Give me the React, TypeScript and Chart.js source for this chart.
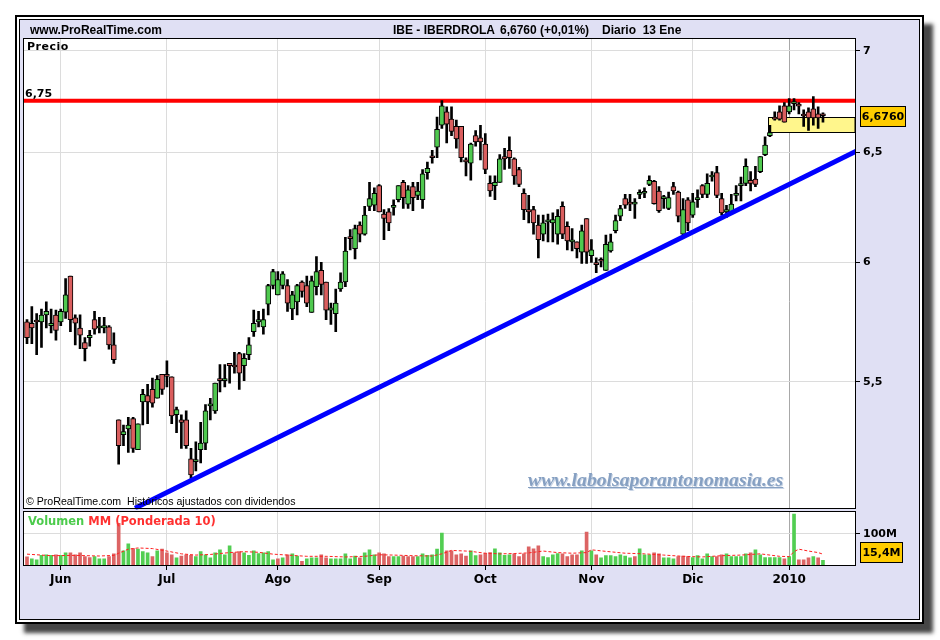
import React, { useEffect, useRef } from "react";
import { Chart, registerables } from "chart.js";

Chart.register(...registerables);

// ---------- categories (trading days) ----------
const monthNames = ["May", "Jun", "Jul", "Ago", "Sep", "Oct", "Nov", "Dic", "Ene"];
const tradingDaysPerMonth = [7, 22, 23, 21, 22, 22, 21, 20, 8];
const monthTickLabels = ["", "Jun", "Jul", "Ago", "Sep", "Oct", "Nov", "Dic", "2010"];

// ---------- axis ticks ----------
const priceTicks = [5.5, 6, 6.5, 7];
const volumeTicks = [100];

// ---------- OHLC (EUR) ----------
const openP = [
  5.746, 5.74, 5.753, 5.746, 5.775, 5.73, 5.774, 5.745, 5.786, 5.94,
  5.763, 5.72, 5.66, 5.68, 5.755, 5.72, 5.72, 5.725, 5.65, 5.35,
  5.293, 5.315, 5.355, 5.235, 5.42, 5.445, 5.47, 5.435, 5.53, 5.525,
  5.52, 5.37, 5.35, 5.35, 5.2, 5.19, 5.235, 5.26, 5.405, 5.385,
  5.505, 5.505, 5.575, 5.56, 5.615, 5.565, 5.61, 5.705, 5.745, 5.725,
  5.82, 5.9, 5.86, 5.9, 5.9, 5.8, 5.83, 5.915, 5.9, 5.785,
  5.895, 5.965, 5.915, 5.795, 5.78, 5.885, 5.915, 6.11, 6.06, 6.165,
  6.125, 6.25, 6.255, 6.345, 6.215, 6.225, 6.245, 6.28, 6.36, 6.26,
  6.34, 6.3, 6.28, 6.405, 6.48, 6.525, 6.63, 6.695, 6.66, 6.625,
  6.625, 6.465, 6.45, 6.58, 6.57, 6.54, 6.355, 6.345, 6.36, 6.48,
  6.51, 6.47, 6.42, 6.31, 6.235, 6.235, 6.165, 6.125, 6.18, 6.175,
  6.125, 6.25, 6.16, 6.09, 6.09, 6.045, 6.195, 6.03, 5.995, 6.01,
  5.965, 6.05, 6.14, 6.205, 6.285, 6.262, 6.26, 6.305, 6.31, 6.35,
  6.365, 6.32, 6.285, 6.24, 6.34, 6.315, 6.125, 6.28, 6.21, 6.28,
  6.345, 6.305, 6.385, 6.405, 6.285, 6.225, 6.225, 6.3, 6.345, 6.355,
  6.37, 6.375, 6.41, 6.49, 6.58, 6.67, 6.695, 6.725, 6.695, 6.735,
  6.725, 6.68, 6.695, 6.71, 6.685, 6.676,
];
const highP = [
  5.755, 5.81, 5.78, 5.8, 5.83, 5.8, 5.795, 5.8, 5.93, 5.94,
  5.775, 5.775, 5.68, 5.71, 5.79, 5.765, 5.765, 5.73, 5.7, 5.35,
  5.33, 5.36, 5.36, 5.335, 5.47, 5.49, 5.515, 5.525, 5.53, 5.585,
  5.52, 5.4, 5.37, 5.385, 5.24, 5.265, 5.34, 5.41, 5.435, 5.495,
  5.57, 5.57, 5.575, 5.62, 5.62, 5.615, 5.68, 5.795, 5.79, 5.8,
  5.905, 5.97, 5.96, 5.96, 5.925, 5.875, 5.905, 5.92, 5.94, 5.94,
  6.025, 6.0, 5.915, 5.825, 5.885, 5.955, 6.11, 6.145, 6.165, 6.18,
  6.25, 6.36, 6.335, 6.35, 6.235, 6.24, 6.28, 6.345, 6.37, 6.345,
  6.36, 6.36, 6.42, 6.455, 6.51, 6.67, 6.75, 6.72, 6.72, 6.655,
  6.625, 6.475, 6.545, 6.605, 6.63, 6.59, 6.39, 6.39, 6.49, 6.52,
  6.575, 6.475, 6.43, 6.33, 6.3, 6.25, 6.21, 6.21, 6.215, 6.22,
  6.235, 6.27, 6.18, 6.15, 6.09, 6.165, 6.195, 6.1, 6.02, 6.02,
  6.12, 6.125, 6.21, 6.255, 6.305, 6.305, 6.285, 6.325, 6.335, 6.39,
  6.37, 6.34, 6.3, 6.315, 6.36, 6.32, 6.285, 6.29, 6.31, 6.325,
  6.35, 6.4, 6.41, 6.435, 6.31, 6.255, 6.305, 6.345, 6.385, 6.47,
  6.41, 6.435, 6.48, 6.575, 6.63, 6.695, 6.725, 6.74, 6.76, 6.76,
  6.74, 6.705, 6.715, 6.77, 6.72, 6.69,
];
const lowP = [
  5.655, 5.655, 5.61, 5.64, 5.72, 5.7, 5.67, 5.73, 5.76, 5.705,
  5.65, 5.635, 5.585, 5.645, 5.695, 5.7, 5.7, 5.633, 5.575, 5.18,
  5.25, 5.225, 5.225, 5.235, 5.33, 5.335, 5.4, 5.435, 5.45, 5.48,
  5.335, 5.3, 5.24, 5.24, 5.12, 5.155, 5.185, 5.235, 5.35, 5.375,
  5.46, 5.48, 5.495, 5.535, 5.47, 5.505, 5.59, 5.685, 5.725, 5.695,
  5.775, 5.885, 5.86, 5.885, 5.79, 5.755, 5.775, 5.85, 5.81, 5.785,
  5.86, 5.86, 5.755, 5.735, 5.705, 5.875, 5.895, 6.055, 6.015, 6.09,
  6.12, 6.23, 6.23, 6.225, 6.1, 6.14, 6.21, 6.27, 6.24, 6.24,
  6.23, 6.28, 6.24, 6.375, 6.45, 6.475, 6.615, 6.545, 6.58, 6.52,
  6.455, 6.39, 6.37, 6.53, 6.465, 6.4, 6.295, 6.28, 6.36, 6.42,
  6.425, 6.35, 6.34, 6.19, 6.175, 6.125, 6.02, 6.095, 6.09, 6.09,
  6.08, 6.105, 6.055, 6.05, 6.02, 5.995, 5.995, 6.0, 5.955, 5.98,
  5.965, 6.045, 6.13, 6.185, 6.24, 6.23, 6.195, 6.285, 6.29, 6.345,
  6.26, 6.222, 6.24, 6.235, 6.305, 6.18, 6.12, 6.14, 6.2, 6.245,
  6.29, 6.29, 6.365, 6.29, 6.21, 6.2, 6.215, 6.275, 6.275, 6.345,
  6.32, 6.34, 6.405, 6.485, 6.575, 6.655, 6.655, 6.645, 6.685, 6.705,
  6.685, 6.625, 6.605, 6.63, 6.615, 6.645,
];
const closeP = [
  5.68, 5.72, 5.745, 5.774, 5.79, 5.74, 5.71, 5.79, 5.86, 5.755,
  5.74, 5.69, 5.635, 5.69, 5.715, 5.722, 5.73, 5.65, 5.59, 5.25,
  5.305, 5.33, 5.24, 5.335, 5.45, 5.42, 5.415, 5.51, 5.47, 5.522,
  5.365, 5.39, 5.34, 5.25, 5.14, 5.195, 5.26, 5.385, 5.41, 5.495,
  5.505, 5.51, 5.565, 5.56, 5.535, 5.595, 5.65, 5.74, 5.755, 5.755,
  5.9, 5.96, 5.925, 5.95, 5.825, 5.86, 5.9, 5.875, 5.825, 5.92,
  5.96, 5.905, 5.795, 5.805, 5.825, 5.915, 6.05, 6.105, 6.15, 6.125,
  6.21, 6.285, 6.31, 6.225, 6.195, 6.175, 6.248, 6.345, 6.29, 6.325,
  6.29, 6.32, 6.4, 6.425, 6.475, 6.61, 6.725, 6.635, 6.6, 6.565,
  6.475, 6.455, 6.54, 6.55, 6.55, 6.42, 6.32, 6.36, 6.47, 6.47,
  6.475, 6.39, 6.35, 6.235, 6.225, 6.175, 6.1, 6.175, 6.182, 6.19,
  6.205, 6.125, 6.095, 6.092, 6.06, 6.14, 6.045, 6.055, 5.99, 6.005,
  6.08, 6.09, 6.185, 6.24, 6.255, 6.26, 6.262, 6.31, 6.312, 6.37,
  6.262, 6.23, 6.287, 6.29, 6.32, 6.205, 6.235, 6.175, 6.27, 6.29,
  6.305, 6.355, 6.387, 6.3, 6.22, 6.235, 6.26, 6.31, 6.347, 6.435,
  6.355, 6.35, 6.48, 6.535, 6.595, 6.66, 6.66, 6.645, 6.725, 6.737,
  6.723, 6.675, 6.665, 6.665, 6.665, 6.676,
];

// ---------- volume (millions) ----------
const volumeM = [
  26.6, 20, 17, 31, 33, 31, 33, 31, 39, 39,
  33, 39, 27, 24, 27, 20, 20, 27, 36, 134,
  46, 68, 53, 51, 43, 39, 27, 46, 51, 39,
  33, 23, 29, 33, 31, 27, 43, 33, 23, 39,
  49, 33, 62, 39, 43, 39, 31, 46, 37, 39,
  43, 17, 20, 23, 33, 36, 29, 12, 20, 23,
  23, 33, 23, 20, 20, 20, 36, 20, 29, 23,
  39, 49, 33, 39, 36, 27, 27, 27, 29, 27,
  27, 27, 36, 31, 33, 51, 103, 46, 46, 33,
  36, 29, 46, 30, 33, 38, 40, 52, 39, 31,
  33, 36, 27, 36, 59, 52, 62, 27, 24, 33,
  37, 36, 27, 33, 33, 46, 106, 46, 33, 23,
  30, 30, 27, 33, 29, 23, 27, 52, 33, 33,
  39, 36, 23, 23, 20, 27, 29, 27, 24, 30,
  20, 36, 27, 27, 33, 36, 27, 27, 27, 36,
  39, 49, 33, 24, 24, 24, 24, 20, 27, 164,
  17, 17, 23, 27, 23, 15.4,
];
const volumeColorCodes =
  "rgggggrggr" + "rrrrgggrrr" + "ggrgggrgrr" + "rgrrrggggg" + "gggrrggggg" +
  "ggrgrggrgg" + "grrggggggr" + "gggrrrggrr" + "rggggggrrr" + "rrggrrrggg" +
  "grrrrrrggg" + "grrrrgrgrg" + "ggggggrggg" + "rrgggrrrgg" + "gggrrggggg" +
  "rggggggrgg" + "rrrgrg";
// weighted moving average (10) read at sample days: [day index, millions]
const maPoints = [
  [0, 35], [5, 30], [10, 31], [15, 29], [18, 31], [19, 38], [21, 51], [23, 55],
  [26, 53], [29, 45], [32, 36], [35, 32], [38, 34], [42, 40], [45, 43], [48, 41],
  [51, 35], [55, 31], [58, 28], [62, 28], [66, 26], [70, 28], [73, 33], [76, 32],
  [80, 30], [84, 29], [86, 36], [88, 47], [91, 45], [92, 44], [95, 38], [98, 36],
  [101, 37], [104, 39], [107, 45], [110, 40], [113, 38], [116, 40], [117, 49],
  [120, 44], [124, 38], [128, 36], [132, 32], [136, 28], [140, 26], [144, 30],
  [148, 32], [152, 36], [156, 28], [158, 27], [159, 43], [160, 51], [162, 45],
  [164, 40], [165, 35],
];

// ---------- drawn studies ----------
const resistanceLevel = 6.75;
const trendLine = [[22.4, 5.017], [172.2, 6.51]];
const gapZone = { fromDay: 153.6, top: 6.67, bottom: 6.597 };
const lastPrice = 6.676;
const lastVolume = 15.4;
const xRange = [-0.83, 171.64];
const priceRange = [5.012, 7.065];
const volumeRange = [0, 179];

// ---------- derived ----------
const monthStarts: number[] = [];
const dayLabels: string[] = [];
{
  let acc = 0;
  tradingDaysPerMonth.forEach((n, m) => {
    monthStarts.push(acc);
    for (let d = 0; d < n; d++) dayLabels.push(monthNames[m] + " " + (d + 1));
    acc += n;
  });
}
const dayIdx = closeP.map((_, i) => i);
const GREEN = "#4FC94F";
const RED = "#DA5E5E";
const LAVENDER = "#E0E0F4";
const FONT = "'DejaVu Sans', sans-serif";

const panelPlugin = {
  id: "panels",
  beforeDraw(chart: any) {
    const { ctx, chartArea } = chart;
    const y = chart.scales.y;
    const yv = chart.scales.yv;
    const l = chartArea.left, r = chartArea.right;
    ctx.save();
    ctx.fillStyle = "#FFFFFF";
    ctx.fillRect(l, y.top, r - l, y.bottom - y.top);
    ctx.fillRect(l, yv.top, r - l, yv.bottom - yv.top);
    ctx.restore();
  },
  beforeDatasetsDraw(chart: any) {
    const { ctx, chartArea } = chart;
    const x = chart.scales.x;
    const y = chart.scales.y;
    const l = chartArea.left, r = chartArea.right;
    ctx.save();
    ctx.fillStyle = LAVENDER;
    ctx.fillRect(l - 1, Math.round(y.bottom - 1.5), r - l + 2, 3);
    const gx = Math.round(x.getPixelForValue(gapZone.fromDay)) + 0.5;
    const gt = Math.round(y.getPixelForValue(gapZone.top)) + 0.5;
    const gb = Math.round(y.getPixelForValue(gapZone.bottom)) + 0.5;
    ctx.fillStyle = "#FFF68C";
    ctx.fillRect(gx, gt, r - gx, gb - gt);
    ctx.strokeStyle = "#000";
    ctx.lineWidth = 1;
    ctx.strokeRect(gx, gt, r - gx, gb - gt);
    ctx.restore();
  },
  afterDatasetsDraw(chart: any) {
    const { ctx, chartArea } = chart;
    const y = chart.scales.y;
    const yv = chart.scales.yv;
    const l = Math.round(chartArea.left) + 0.5;
    const r = Math.round(chartArea.right) + 0.5;
    const pTop = Math.round(y.top) + 0.5;
    const pBot = Math.round(y.bottom - 1.5) + 0.5;
    const vTop = Math.round(yv.top + 1.5) + 0.5;
    const vBot = Math.round(yv.bottom) + 0.5;
    ctx.save();
    ctx.strokeStyle = "#000";
    ctx.lineWidth = 1;
    ctx.strokeRect(l, pTop, r - l, pBot - pTop);
    ctx.strokeRect(l, vTop, r - l, vBot - vTop);

    const box = (text: string, cy: number, w: number) => {
      const x0 = Math.round(chartArea.right) + 5.5;
      const h = 20;
      const t = Math.round(cy - h / 2) + 0.5;
      ctx.fillStyle = "#FFCC00";
      ctx.fillRect(x0, t, w, h);
      ctx.strokeStyle = "#000";
      ctx.strokeRect(x0, t, w, h);
      ctx.fillStyle = "#000";
      ctx.font = "bold 11px " + FONT;
      ctx.textAlign = "center";
      ctx.textBaseline = "middle";
      ctx.fillText(text, x0 + w / 2, t + h / 2 + 0.5);
    };
    box(lastPrice.toFixed(4).replace(".", ","), y.getPixelForValue(lastPrice), 45);
    const vy = Math.min(yv.getPixelForValue(lastVolume), yv.bottom - 13);
    box(String(lastVolume).replace(".", ",") + "M", vy, 42);
    ctx.restore();
  },
};

export default function App() {
  const canvasRef = useRef<HTMLCanvasElement>(null);

  useEffect(() => {
    const canvas = canvasRef.current;
    if (!canvas) return;
    const chart = new Chart(canvas, {
      type: "bar",
      data: {
        labels: dayLabels,
        datasets: [
          {
            type: "line",
            label: "Resistencia",
            data: [
              { x: xRange[0], y: resistanceLevel },
              { x: xRange[1], y: resistanceLevel },
            ],
            borderColor: "#FF0000",
            borderWidth: 4,
            pointRadius: 0,
            yAxisID: "y",
            order: 6,
          },
          {
            label: "Mecha",
            data: dayIdx.map((i) => ({ x: i, y: [lowP[i], highP[i]] })),
            backgroundColor: "#000",
            barThickness: 2,
            grouped: false,
            yAxisID: "y",
            order: 5,
          },
          {
            label: "Cuerpo",
            data: dayIdx.map((i) => ({ x: i, y: [openP[i], closeP[i]] })),
            backgroundColor: dayIdx.map((i) => (closeP[i] > openP[i] ? GREEN : RED)),
            borderColor: "#000",
            borderWidth: 1,
            borderSkipped: false,
            barThickness: 5,
            minBarLength: 2,
            grouped: false,
            yAxisID: "y",
            order: 4,
          },
          {
            type: "line",
            label: "Tendencia",
            data: trendLine.map(([x, y]) => ({ x, y })),
            borderColor: "#0000FF",
            borderWidth: 5,
            pointRadius: 0,
            yAxisID: "y",
            order: 1,
          },
          {
            label: "Volumen",
            data: dayIdx.map((i) => ({ x: i, y: volumeM[i] })),
            backgroundColor: dayIdx.map((i) =>
              volumeColorCodes[i] === "g" ? "#52CE52" : "#DC6464"
            ),
            barThickness: 3,
            grouped: false,
            yAxisID: "yv",
            order: 3,
          },
          {
            type: "line",
            label: "MM (Ponderada 10)",
            data: maPoints.map(([x, y]) => ({ x, y })),
            borderColor: "#FF2020",
            borderWidth: 1,
            borderDash: [3, 2],
            pointRadius: 0,
            yAxisID: "yv",
            order: 0,
          },
        ],
      } as any,
      options: {
        animation: false,
        responsive: false,
        devicePixelRatio: 1,
        layout: { padding: { left: 23, top: 38, right: 25, bottom: 45 } },
        plugins: {
          legend: { display: false },
          tooltip: { enabled: false },
        },
        scales: {
          x: {
            type: "linear",
            min: xRange[0],
            max: xRange[1],
            offset: false,
            border: { display: false },
            grid: {
              offset: false,
              color: (ctx: any) =>
                ctx.tick && ctx.tick.value === monthStarts[monthStarts.length - 1]
                  ? "#A8A8A8"
                  : "#DCDCDC",
              tickColor: "#000",
              tickLength: 5,
            },
            ticks: {
              autoSkip: false,
              maxRotation: 0,
              color: "#000",
              padding: 3,
              font: { family: FONT, weight: "bold", size: 12 },
              callback: (v: any) => {
                const k = monthStarts.indexOf(Number(v));
                return k >= 0 ? monthTickLabels[k] : "";
              },
            },
            afterBuildTicks: (s: any) => {
              s.ticks = monthStarts.slice(1).map((v) => ({ value: v }));
            },
            afterFit: (s: any) => {
              s.height = 30;
            },
          },
          y: {
            type: "logarithmic",
            position: "right",
            stack: "panels",
            stackWeight: 471.5,
            min: priceRange[0],
            max: priceRange[1],
            border: { display: false },
            grid: { color: "#DCDCDC", tickColor: "#000", tickLength: 5 },
            ticks: {
              color: "#000",
              padding: 3,
              font: { family: FONT, weight: "bold", size: 11 },
              callback: (v: any) => String(v).replace(".", ","),
            },
            afterBuildTicks: (s: any) => {
              s.ticks = priceTicks.map((v) => ({ value: v }));
            },
            afterFit: (s: any) => {
              s.width = 60;
            },
          },
          yv: {
            type: "linear",
            position: "right",
            stack: "panels",
            stackWeight: 55.5,
            min: volumeRange[0],
            max: volumeRange[1],
            border: { display: false },
            grid: { color: "#DCDCDC", tickColor: "#000", tickLength: 5 },
            ticks: {
              color: "#000",
              padding: 3,
              font: { family: FONT, weight: "bold", size: 11 },
              callback: (v: any) => v + "M",
            },
            afterBuildTicks: (s: any) => {
              s.ticks = volumeTicks.map((v) => ({ value: v }));
            },
            afterFit: (s: any) => {
              s.width = 60;
            },
          },
        },
      } as any,
      plugins: [panelPlugin],
    });
    return () => chart.destroy();
  }, []);

  const txt = (extra: any) => ({
    position: "absolute" as const,
    whiteSpace: "nowrap" as const,
    margin: 0,
    ...extra,
  });

  return (
    <div
      style={{
        position: "fixed",
        left: 0,
        top: 0,
        width: 940,
        height: 640,
        background: "#FFFFFF",
        overflow: "hidden",
      }}
    >
      <div
        style={{
          position: "absolute",
          left: 15,
          top: 15,
          width: 909,
          height: 609,
          boxSizing: "border-box",
          border: "2px solid #000",
          background: "#FFFFFF",
          boxShadow: "9px 9px 4px rgba(50,50,50,0.9)",
        }}
      >
        <div
          style={{
            position: "absolute",
            left: 2,
            top: 2,
            right: 2,
            bottom: 2,
            border: "1px solid #000",
            background: LAVENDER,
          }}
        />
      </div>
      <canvas
        ref={canvasRef}
        width={940}
        height={640}
        style={{ position: "absolute", left: 0, top: 0, width: 940, height: 640 }}
      />
      <div style={txt({ left: 30, top: 24, font: "bold 12px 'Liberation Sans', sans-serif", lineHeight: "12px" })}>
        www.ProRealTime.com
      </div>
      <div style={txt({ left: 393, top: 24, font: "bold 12px 'Liberation Sans', sans-serif", lineHeight: "12px" })}>
        IBE - IBERDROLA
      </div>
      <div style={txt({ left: 500, top: 24, font: "bold 12px 'Liberation Sans', sans-serif", lineHeight: "12px" })}>
        6,6760 (+0,01%)
      </div>
      <div style={txt({ left: 602, top: 24, font: "bold 12px 'Liberation Sans', sans-serif", lineHeight: "12px" })}>
        Diario&nbsp;&nbsp;13 Ene
      </div>
      <div style={txt({ left: 27, top: 41, font: "bold 11px " + FONT, lineHeight: "11px", letterSpacing: "0.5px" })}>
        Precio
      </div>
      <div style={txt({ left: 25, top: 88, font: "bold 11px " + FONT, lineHeight: "11px" })}>
        6,75
      </div>
      <div
        style={txt({
          left: 528,
          top: 470,
          font: "italic bold 19.7px 'Liberation Serif', serif",
          lineHeight: "19px",
          color: "#86A0C2",
          textDecoration: "underline",
          textShadow: "1px 1px 0 #C9D5E6",
        })}
      >
        www.labolsaporantonomasia.es
      </div>
      <div style={txt({ left: 26, top: 496, font: "10.6px 'Liberation Sans', sans-serif", lineHeight: "11px" })}>
        © ProRealTime.com&nbsp;&nbsp;Históricos ajustados con dividendos
      </div>
      <div style={txt({ left: 28, top: 515, font: "bold 11.5px " + FONT, lineHeight: "12px" })}>
        <span style={{ color: "#4CCB4C" }}>Volumen </span>
        <span style={{ color: "#FF3030" }}>MM (Ponderada 10)</span>
      </div>
    </div>
  );
}
